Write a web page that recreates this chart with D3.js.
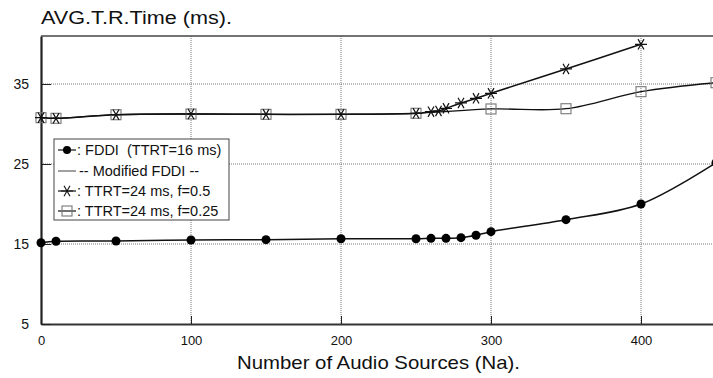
<!DOCTYPE html>
<html>
<head>
<meta charset="utf-8">
<script src="https://cdn.jsdelivr.net/npm/d3@7"></script>
<style>
  body { margin: 0; background: #fff; }
  svg { display: block; font-family: 'Liberation Sans', Arial, sans-serif; }
  .legend text { white-space: pre; }
</style>
</head>
<body>
<svg id="chart" width="713" height="378"></svg>
<script>
// data
const fddiX = [0, 10, 50, 100, 150, 200, 250, 260, 270, 280, 290, 300, 350, 400, 450];
const fddiY = [15.16, 15.34, 15.38, 15.5, 15.54, 15.66, 15.66, 15.71, 15.71, 15.79, 16.1, 16.54, 18.04, 20.0, 25.16];

const starX = [0, 10, 50, 100, 150, 200, 250, 260, 265, 270, 280, 290, 300, 350, 400];
const starY = [30.79, 30.71, 31.16, 31.25, 31.21, 31.21, 31.34, 31.54, 31.63, 31.96, 32.63, 33.21, 33.84, 36.88, 39.96];

const squareX = [0, 10, 50, 100, 150, 200, 250, 300, 350, 400, 450];
const squareY = [30.79, 30.71, 31.16, 31.25, 31.21, 31.21, 31.34, 31.88, 31.91, 34.04, 35.16];

const xTicks = [0, 100, 200, 300, 400];
const yTicks = [5, 15, 25, 35];

const legendLabels = [': FDDI  (TTRT=16 ms)', '-- Modified FDDI --', ': TTRT=24 ms, f=0.5', ': TTRT=24 ms, f=0.25'];

const svg = d3.select('#chart');
const margin = { top: 36, left: 41, bottom: 324, right: 716 };

const x = d3.scaleLinear().domain([0, 450]).range([margin.left, margin.right]);
const y = d3.scaleLinear().domain([5, 41]).range([margin.bottom, margin.top]);

// grid
svg.append('g')
  .selectAll('line.v')
  .data(xTicks.slice(1))
  .join('line')
  .attr('x1', (d) => x(d)).attr('x2', (d) => x(d))
  .attr('y1', margin.top).attr('y2', margin.bottom)
  .attr('stroke', '#777').attr('stroke-width', 1).attr('stroke-dasharray', '1,1');

svg.append('g')
  .selectAll('line.h')
  .data(yTicks.slice(1))
  .join('line')
  .attr('x1', margin.left).attr('x2', 713)
  .attr('y1', (d) => y(d)).attr('y2', (d) => y(d))
  .attr('stroke', '#777').attr('stroke-width', 1).attr('stroke-dasharray', '1,1');

// axes
const xAxis = svg.append('g')
  .attr('transform', `translate(0,${margin.bottom})`)
  .call(d3.axisBottom(x).tickValues(xTicks).tickSize(-8).tickPadding(12).tickSizeOuter(0));
xAxis.select('.domain').attr('stroke', '#333').attr('stroke-width', 2);
xAxis.selectAll('.tick line').attr('stroke', '#222');
xAxis.selectAll('.tick text').attr('font-size', 13).attr('fill', '#111')
  .attr('font-family', "'Liberation Sans', Arial, sans-serif");

const yAxis = svg.append('g')
  .attr('transform', `translate(${margin.left},0)`)
  .call(d3.axisLeft(y).tickValues(yTicks).tickSize(-10).tickPadding(12).tickSizeOuter(0));
yAxis.select('.domain').attr('stroke', '#222').attr('stroke-width', 2.2);
yAxis.selectAll('.tick line').attr('stroke', '#222');
yAxis.selectAll('.tick text').attr('font-size', 14).attr('fill', '#111')
  .attr('font-family', "'Liberation Sans', Arial, sans-serif");

svg.append('line')
  .attr('x1', margin.left).attr('x2', 713)
  .attr('y1', margin.top).attr('y2', margin.top)
  .attr('stroke', '#444').attr('stroke-width', 1.5);

// titles
svg.append('text')
  .attr('x', 41).attr('y', 24)
  .attr('font-size', 17.5).attr('fill', '#111')
  .attr('textLength', 191).attr('lengthAdjust', 'spacingAndGlyphs')
  .text('AVG.T.R.Time (ms).');

svg.append('text')
  .attr('x', 237).attr('y', 369)
  .attr('font-size', 18.5).attr('fill', '#111')
  .attr('textLength', 283).attr('lengthAdjust', 'spacingAndGlyphs')
  .text('Number of Audio Sources (Na).');

// series
const curve = d3.curveCatmullRom.alpha(0.5);
const line = d3.line().x((d) => x(d[0])).y((d) => y(d[1])).curve(curve);

const fddi = fddiX.map((d, i) => [d, fddiY[i]]);
const star = starX.map((d, i) => [d, starY[i]]);
const square = squareX.map((d, i) => [d, squareY[i]]);

svg.append('path').datum(square).attr('d', line)
  .attr('fill', 'none').attr('stroke', '#111').attr('stroke-width', 1.3);
svg.append('path').datum(star).attr('d', line)
  .attr('fill', 'none').attr('stroke', '#111').attr('stroke-width', 1.5);
svg.append('path').datum(fddi).attr('d', line)
  .attr('fill', 'none').attr('stroke', '#111').attr('stroke-width', 1.5);

const starPath = (r) => {
  const a = Math.PI / 3;
  let p = '';
  for (let k = 0; k < 3; k += 1) {
    const dx = r * Math.cos(k * a);
    const dy = r * Math.sin(k * a);
    p += `M${-dx},${-dy}L${dx},${dy}`;
  }
  return p;
};

svg.append('g').selectAll('rect')
  .data(square)
  .join('rect')
  .attr('x', (d) => x(d[0]) - 5).attr('y', (d) => y(d[1]) - 5)
  .attr('width', 10).attr('height', 10)
  .attr('fill', 'none').attr('stroke', '#777').attr('stroke-width', 1.1);

svg.append('g').selectAll('path')
  .data(star)
  .join('path')
  .attr('transform', (d) => `translate(${x(d[0])},${y(d[1])})`)
  .attr('d', starPath(6))
  .attr('stroke', '#111').attr('stroke-width', 1.2);

svg.append('g').selectAll('circle')
  .data(fddi)
  .join('circle')
  .attr('cx', (d) => x(d[0])).attr('cy', (d) => y(d[1]))
  .attr('r', 4.5).attr('fill', '#000');

// legend
const legend = svg.append('g').attr('class', 'legend').attr('transform', 'translate(54,139)');
legend.append('rect')
  .attr('width', 175).attr('height', 81)
  .attr('fill', '#fff').attr('stroke', '#444').attr('stroke-width', 1);

const rowY = [11, 32, 52, 72];
legend.selectAll('text')
  .data(legendLabels)
  .join('text')
  .attr('x', (d, i) => (i === 1 ? 25 : 23))
  .attr('y', (d, i) => rowY[i] + 5)
  .attr('font-size', 14.5).attr('fill', '#111')
  .text((d) => d);

legend.selectAll('line.sample')
  .data(rowY)
  .join('line')
  .attr('x1', 4).attr('x2', 22)
  .attr('y1', (d) => d).attr('y2', (d) => d)
  .attr('stroke', '#111').attr('stroke-width', (d, i) => (i === 1 ? 0.8 : 1.2));
legend.append('circle').attr('cx', 13).attr('cy', rowY[0]).attr('r', 4).attr('fill', '#000');
legend.append('path').attr('transform', `translate(13,${rowY[2]})`)
  .attr('d', starPath(6)).attr('stroke', '#111').attr('stroke-width', 1.1);
legend.append('rect').attr('x', 8).attr('y', rowY[3] - 5).attr('width', 10).attr('height', 10)
  .attr('fill', 'none').attr('stroke', '#777').attr('stroke-width', 1.1);
</script>
</body>
</html>
